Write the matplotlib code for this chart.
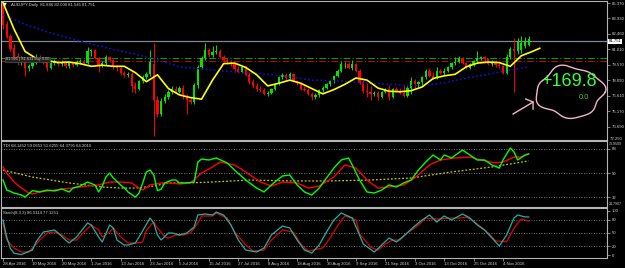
import numpy as np
import matplotlib
matplotlib.use('Agg')
import matplotlib.pyplot as plt
from matplotlib.transforms import blended_transform_factory

plt.rcParams['font.family'] = ['Liberation Sans', 'DejaVu Sans']

# --- AUDJPY daily candles, 28 Apr 2016 .. 15 Nov 2016 ---
opens = [85.30, 83.35, 82.25, 81.10, 80.35, 79.80, 80.05, 79.20, 79.45, 79.75,
         80.30, 80.10, 79.80, 79.25, 79.70, 79.90, 79.60, 79.80, 79.40, 79.70,
         79.50, 79.80, 79.90, 79.70, 80.80, 80.90, 80.20, 79.50, 79.70, 80.30,
         80.00, 79.30, 79.20, 78.80, 78.60, 78.70, 77.50, 77.30, 78.00, 78.40,
         78.70, 79.60, 76.20, 74.90, 76.10, 76.50, 77.00, 77.30, 77.00, 77.35,
         76.60, 76.20, 76.00, 77.60, 79.30, 80.20, 80.90, 80.50, 80.75, 80.85,
         80.30, 80.00, 79.80, 79.60, 79.10, 78.90, 79.30, 78.60, 77.90, 77.50,
         77.30, 77.20, 76.80, 76.90, 77.30, 77.70, 78.40, 78.60, 78.30, 78.70,
         78.00, 77.80, 77.30, 77.20, 76.80, 76.50, 76.70, 77.20, 77.40, 77.70,
         78.00, 78.50, 79.00, 79.60, 79.65, 79.20, 79.60, 79.00, 77.85, 77.05,
         76.95, 76.80, 76.90, 76.55, 77.00, 77.30, 76.50, 77.30, 77.10, 76.90,
         76.60, 77.40, 78.00, 77.70, 77.90, 78.40, 79.00, 78.50, 78.30, 79.00,
         78.80, 79.00, 79.30, 79.70, 79.85, 80.20, 79.70, 79.25, 79.60, 79.90,
         80.15, 80.25, 80.05, 79.60, 79.80, 79.50, 79.40, 78.80, 80.30, 81.00,
         80.80, 80.90, 81.30, 81.45]
highs = [85.42, 83.70, 82.45, 81.55, 80.70, 80.40, 80.20, 79.65, 79.90, 80.55,
         80.50, 80.25, 79.95, 79.85, 80.05, 80.00, 79.95, 79.90, 79.85, 79.80,
         79.95, 80.10, 80.05, 81.20, 81.05, 81.00, 80.30, 79.90, 80.50, 80.40,
         80.10, 79.50, 79.35, 79.00, 78.90, 78.85, 77.90, 78.15, 78.55, 78.90,
         80.90, 81.60, 76.60, 76.40, 76.80, 77.20, 77.50, 77.50, 77.55, 77.60,
         76.80, 76.50, 77.80, 79.50, 80.40, 81.60, 81.10, 81.30, 81.40, 81.00,
         80.50, 80.20, 80.00, 79.75, 79.40, 79.45, 79.40, 78.85, 78.25, 77.80,
         77.55, 77.35, 77.10, 77.40, 77.80, 78.50, 78.80, 78.75, 78.90, 78.80,
         78.15, 77.95, 77.50, 77.35, 76.95, 76.85, 77.30, 77.50, 77.80, 78.10,
         78.60, 79.10, 79.90, 79.85, 79.80, 80.00, 79.75, 79.15, 78.10, 77.80,
         77.50, 77.10, 77.10, 77.10, 77.40, 77.60, 77.40, 77.45, 77.35, 77.60,
         77.50, 78.40, 78.20, 78.05, 78.50, 79.10, 79.20, 78.85, 79.30, 79.10,
         79.20, 79.45, 79.80, 80.30, 80.35, 80.30, 79.85, 79.70, 80.00, 80.80,
         80.35, 80.40, 80.20, 79.95, 79.95, 79.70, 79.55, 80.60, 81.20, 82.10,
         82.10, 82.30, 82.20, 82.25]
lows = [82.95, 82.05, 80.80, 80.05, 79.55, 79.55, 78.50, 78.95, 79.20, 79.60,
        79.95, 79.60, 78.95, 79.10, 79.50, 79.40, 79.45, 79.20, 79.25, 79.30,
        79.40, 79.65, 79.50, 79.60, 80.35, 80.05, 78.90, 79.30, 79.55, 79.85,
        79.15, 79.00, 78.60, 78.40, 78.40, 76.95, 76.90, 77.15, 77.80, 78.20,
        78.50, 72.80, 74.60, 74.70, 75.90, 76.30, 76.80, 76.85, 76.90, 76.30,
        74.90, 75.80, 75.80, 77.40, 79.10, 80.00, 80.30, 80.30, 80.55, 80.15,
        79.85, 79.65, 79.45, 78.95, 78.75, 78.80, 78.45, 77.75, 77.35, 77.10,
        77.00, 76.65, 76.60, 76.80, 77.20, 77.60, 78.20, 78.15, 78.20, 77.90,
        77.65, 77.20, 77.05, 76.65, 76.20, 76.35, 76.55, 77.00, 77.25, 77.55,
        77.85, 78.35, 78.85, 79.25, 79.10, 79.05, 78.90, 77.70, 76.90, 76.50,
        76.20, 76.60, 76.20, 76.40, 76.85, 76.20, 76.40, 76.95, 76.75, 76.50,
        76.50, 76.80, 77.40, 77.45, 77.60, 78.20, 78.40, 78.20, 78.20, 78.70,
        78.60, 78.85, 79.15, 79.50, 79.70, 79.60, 79.10, 79.10, 79.40, 79.75,
        79.95, 79.85, 79.50, 79.45, 79.35, 79.20, 78.65, 78.70, 80.10, 77.00,
        80.60, 80.70, 81.10, 81.30]
closes = [83.30, 82.20, 81.00, 80.30, 79.80, 80.05, 79.20, 79.45, 79.75, 80.30,
          80.10, 79.80, 79.25, 79.70, 79.90, 79.60, 79.80, 79.40, 79.70, 79.50,
          79.80, 79.90, 79.70, 80.80, 80.90, 80.20, 79.50, 79.70, 80.30, 80.00,
          79.30, 79.20, 78.80, 78.60, 78.70, 77.50, 77.30, 78.00, 78.40, 78.70,
          79.80, 76.20, 74.90, 76.10, 76.50, 77.00, 77.30, 77.00, 77.35, 76.60,
          76.20, 76.00, 77.60, 79.30, 80.20, 80.90, 80.50, 80.75, 80.85, 80.30,
          80.00, 79.80, 79.60, 79.10, 78.90, 79.30, 78.60, 77.90, 77.50, 77.30,
          77.20, 76.80, 76.90, 77.30, 77.70, 78.40, 78.60, 78.30, 78.70, 78.00,
          77.80, 77.30, 77.20, 76.80, 76.50, 76.70, 77.20, 77.40, 77.70, 78.00,
          78.50, 79.00, 79.60, 79.65, 79.20, 79.60, 79.00, 77.85, 77.05, 76.95,
          76.80, 76.90, 76.55, 77.00, 77.30, 76.50, 77.30, 77.10, 76.90, 76.60,
          77.40, 78.00, 77.70, 77.90, 78.40, 79.00, 78.50, 78.30, 79.00, 78.80,
          79.00, 79.30, 79.70, 79.85, 80.20, 79.70, 79.25, 79.60, 79.90, 80.15,
          80.25, 80.05, 79.60, 79.80, 79.50, 79.40, 78.80, 80.30, 81.00, 80.80,
          81.70, 81.60, 81.75, 81.95]

date_labels = ['28 Apr 2016', '10 May 2016', '20 May 2016', '1 Jun 2016', '13 Jun 2016',
               '23 Jun 2016', '5 Jul 2016', '15 Jul 2016', '27 Jul 2016', '8 Aug 2016',
               '18 Aug 2016', '30 Aug 2016', '9 Sep 2016', '21 Sep 2016', '3 Oct 2016',
               '13 Oct 2016', '25 Oct 2016', '4 Nov 2016']
date_bars = list(range(0, 137, 8))

# yellow smoothed MA (drawn 3 bars past the last candle)
yellow_bars = list(range(0, 145, 3)) + [146]
yellow_ma = [85.40, 82.90, 80.80, 80.15, 79.95, 79.75, 79.80, 79.65, 79.40, 79.50,
             79.40, 79.40, 78.80, 77.95, 78.60, 77.30, 76.70, 76.45, 76.30, 78.10,
             79.65, 79.70, 79.30, 78.60, 77.55, 77.80, 78.10, 77.80, 77.30, 76.80,
             77.20, 77.70, 78.30, 78.10, 77.35, 77.05, 77.00, 77.10, 77.45, 78.25,
             78.50, 78.65, 79.35, 79.70, 79.80, 79.75, 79.40, 80.40, 80.80, 81.10]

# blue dotted slow MA
blue_bars = list(range(0, 144, 6)) + [143]
blue_ma = [84.25, 83.35, 82.65, 82.05, 81.50, 81.00, 80.55, 80.00, 79.35, 79.15,
           78.95, 78.80, 78.65, 78.40, 78.10, 78.05, 77.90, 77.75, 77.65, 77.55,
           77.85, 78.30, 78.65, 79.05, 79.35]

# TDI: RSI price line (green), trade signal (red), market base (yellow)
tdi_green_bars = [0, 1, 3, 5, 6, 8, 10, 12, 14, 16, 18, 19, 21, 23, 25, 26, 27, 28, 29, 30,
                  32, 33, 34, 36, 37, 38, 39, 40, 41, 42, 43, 44, 46, 47, 48, 50, 52, 53, 54, 56,
                  58, 61, 63, 66, 69, 71, 73, 76, 78, 80, 82, 84, 86, 88, 90, 92, 94, 95, 97, 99,
                  101, 103, 105, 107, 109, 111, 113, 115, 117, 119, 120, 122, 125, 127, 129, 131,
                  133, 135, 136, 138, 139, 140, 142, 143]
tdi_green = [44.9, 37.5, 35.2, 33.7, 32.2, 37.0, 36.0, 37.4, 36.7, 38.2, 36.0, 38.9, 40.4, 43.4,
             41.2, 36.0, 40.4, 47.1, 50.1, 46.4, 41.2, 38.9, 36.0, 32.2, 35.2, 42.7, 50.9, 52.3,
             48.6, 37.0, 38.0, 42.7, 44.9, 44.9, 42.7, 42.7, 43.4, 58.3, 60.5, 59.8, 61.3, 57.6,
             52.3, 44.9, 38.9, 36.0, 41.2, 47.9, 48.6, 41.2, 36.0, 33.7, 38.9, 46.4, 53.8, 59.8,
             61.3, 56.1, 44.9, 36.0, 35.2, 37.4, 41.2, 39.7, 42.7, 44.9, 52.3, 58.3, 63.5, 59.8,
             63.5, 61.3, 67.2, 63.5, 59.8, 59.8, 56.1, 53.8, 59.8, 68.7, 65.8, 59.8, 63.5, 64.4]
tdi_red_bars = [0, 1, 3, 5, 7, 8, 10, 12, 16, 19, 23, 26, 29, 32, 35, 37, 38, 40, 43, 46,
                48, 51, 54, 57, 59, 63, 66, 70, 73, 76, 80, 83, 86, 90, 93, 96, 99, 102, 105, 109,
                112, 116, 119, 123, 127, 130, 134, 136, 139, 141, 143]
tdi_red = [54.6, 50.1, 43.4, 38.9, 35.2, 34.5, 36.0, 36.7, 38.2, 38.9, 40.4, 41.2, 43.4, 43.4,
           42.7, 38.9, 37.4, 41.2, 42.7, 42.7, 41.9, 42.7, 50.1, 54.6, 58.3, 56.1, 50.9, 43.4,
           40.4, 43.4, 42.7, 38.9, 40.4, 47.1, 56.1, 53.8, 44.9, 38.9, 39.7, 41.2, 46.4, 56.1,
           59.8, 61.3, 62.0, 59.8, 57.6, 58.3, 62.0, 62.0, 64.2]
tdi_base_bars = [0, 8, 18, 27, 32, 36, 41, 45, 50, 57, 67, 78, 89, 100, 111, 122, 133, 143]
tdi_base = [52.3, 47.1, 42.7, 39.7, 38.9, 38.9, 40.4, 42.7, 42.7, 43.4, 44.9, 44.2, 44.2, 44.9,
            46.4, 50.9, 54.6, 59.1]

# Stochastic(8,3,3): main (teal) and signal (red)
stoch_main_bars = [0, 1, 2, 3, 5, 7, 8, 9, 11, 14, 15, 17, 18, 20, 23, 24, 26, 27, 29, 30,
                   31, 33, 34, 36, 37, 40, 41, 42, 43, 45, 46, 48, 50, 52, 53, 55, 57, 58, 60, 62,
                   64, 66, 69, 71, 73, 76, 78, 80, 82, 84, 86, 88, 90, 92, 95, 97, 98, 101, 103, 105,
                   107, 109, 112, 114, 116, 118, 120, 122, 125, 127, 129, 131, 133, 135, 137, 139,
                   140, 142, 143]
stoch_main = [79.5, 40.9, 15.0, 4.0, 1.0, 8.0, 11.4, 30.0, 52.3, 56.8, 50.0, 34.0, 27.3, 40.9,
              72.7, 68.2, 40.9, 29.5, 68.2, 61.4, 34.0, 22.7, 22.7, 27.3, 40.9, 84.1, 72.7, 45.5,
              34.0, 50.0, 50.0, 45.5, 50.0, 63.6, 90.9, 93.2, 90.9, 97.7, 90.9, 68.2, 34.0, 11.4,
              6.8, 15.9, 45.5, 65.9, 61.4, 34.0, 11.4, 4.5, 22.7, 52.3, 79.5, 95.5, 84.1, 45.0,
              25.0, 6.8, 22.7, 38.6, 29.5, 43.2, 65.9, 79.5, 90.9, 75.0, 88.6, 79.5, 93.2, 84.1,
              68.2, 56.8, 38.6, 20.5, 45.5, 84.1, 90.9, 86.4, 86.5]
stoch_sig_bars = [0, 1, 3, 5, 7, 8, 10, 12, 14, 16, 18, 20, 22, 24, 26, 27, 29, 30, 32, 34,
                  36, 38, 39, 41, 42, 44, 45, 47, 49, 51, 53, 54, 57, 58, 61, 63, 66, 68, 71, 73,
                  76, 79, 81, 83, 87, 89, 91, 93, 96, 97, 100, 102, 104, 106, 108, 110, 113, 115,
                  117, 119, 121, 124, 126, 128, 130, 132, 134, 137, 139, 141, 143]
stoch_sig = [72.7, 34.0, 15.9, 6.8, 6.8, 15.9, 34.0, 50.0, 52.3, 45.5, 34.0, 34.0, 52.3, 68.2,
             56.8, 40.9, 52.3, 61.4, 40.9, 27.3, 27.3, 29.5, 56.8, 75.0, 61.4, 40.9, 38.6, 45.5,
             45.5, 50.0, 72.7, 88.6, 88.6, 95.0, 84.0, 52.0, 23.0, 9.0, 11.0, 34.0, 57.0, 52.0,
             25.0, 9.0, 16.0, 39.0, 66.0, 89.0, 80.0, 48.0, 18.0, 11.0, 25.0, 34.0, 34.0, 50.0,
             68.0, 84.0, 82.0, 82.0, 84.0, 84.0, 86.0, 77.0, 64.0, 50.0, 32.0, 30.0, 61.0, 82.0,
             77.1]

price_ticks = [85.370, 83.930, 82.460, 81.010, 79.570, 78.090, 76.610, 75.170, 73.690]
last_price = 81.751
order_green = 80.19
order_red = 79.90

BG = 'black'
AXC = '#b4b4b4'
TXT = '#d2d2d2'
BULL = '#00e400'
BEAR = '#ff0000'
FS = 3.1  # the small MT4 label font

W, H = 625, 268


def painel(fig, top, bottom):
    """Creates one chart pane from pixel rows (top, bottom)."""
    ax = fig.add_axes([1 / W, 1 - bottom / H, 606 / W, (bottom - top) / H])
    ax.set_facecolor(BG)
    for s in ax.spines.values():
        s.set_color(AXC)
        s.set_linewidth(0.8)
    ax.yaxis.tick_right()
    ax.tick_params(axis='y', colors=AXC, labelcolor=TXT, labelsize=FS, length=2, pad=1.2, width=0.5)
    ax.tick_params(axis='x', bottom=False, labelbottom=False)
    ax.set_xlim(-0.55, 164.3)
    return ax


def desenhar_velas(ax):
    """Draws the candlesticks."""
    x = np.arange(len(closes))
    o = np.array(opens)
    c = np.array(closes)
    cores = [BULL if cc >= oo else BEAR for oo, cc in zip(o, c)]
    ax.vlines(x, lows, highs, colors=cores, linewidth=0.7, zorder=3)
    corpo = np.maximum(np.abs(c - o), 0.04)
    ax.bar(x, corpo, bottom=np.minimum(o, c), width=0.62, color=cores, linewidth=0, zorder=4)


fig = plt.figure(figsize=(W / 100, H / 100), dpi=100, facecolor=BG)

# ---- main price pane ----
ax = painel(fig, 1, 140)
ax.set_ylim(72.45, 85.56)
ax.set_yticks(price_ticks)
ax.set_yticklabels(['%.3f' % v for v in price_ticks])
ax.axhline(last_price, color='#7c8794', lw=0.9, zorder=2)
ax.axhline(order_green, color='#00a000', lw=0.8, ls=(0, (6, 2, 1, 2)), zorder=2)
ax.axhline(order_red, color='#c80000', lw=0.8, ls=(0, (6, 2, 1, 2)), zorder=2)
ax.plot(blue_bars, blue_ma, color='#1010d0', lw=1.1, ls=(0, (1.2, 1.5)), zorder=5)
desenhar_velas(ax)
ax.plot(yellow_bars, yellow_ma, color='#ffff00', lw=1.2, zorder=6)

trans = blended_transform_factory(ax.transAxes, ax.transData)
ax.text(1.003, last_price, '%.3f' % last_price, transform=trans, fontsize=FS, color='black',
        va='center', ha='left', bbox=dict(boxstyle='square,pad=0.12', fc='white', ec='none'),
        clip_on=False, zorder=10)
ax.text(1.005, 0.01, '72.250', transform=ax.transAxes, fontsize=FS, color=TXT,
        va='center', ha='left', clip_on=False)
ax.text(0.008, 0.58, '81.991 | 81.611 buy 0.00', transform=ax.transAxes, fontsize=FS - 0.3,
        color='#c8c8c8', va='center', ha='left',
        bbox=dict(boxstyle='square,pad=0.2', fc='#202020', ec='#606060', lw=0.4), zorder=9)

# hand drawn note on the right
t = np.linspace(0, 2 * np.pi, 200)
r = 1 + 0.07 * np.sin(4 * t + 0.5) + 0.04 * np.sin(7 * t + 1.0)
ax.plot(0.939 + 0.0545 * r * np.cos(t), 0.345 + 0.18 * r * np.sin(t), transform=ax.transAxes,
        color='#f4b4cc', lw=1.0, zorder=8)
ax.plot([0.845, 0.878], [0.187, 0.273], transform=ax.transAxes, color='#f4b4cc', lw=1.0)
ax.plot([0.866, 0.878, 0.878], [0.295, 0.273, 0.223], transform=ax.transAxes,
        color='#f4b4cc', lw=1.0)
ax.text(0.937, 0.424, '+169.8', transform=ax.transAxes, fontsize=13, color='#39ff39',
        ha='center', va='center', zorder=9)
ax.text(0.962, 0.305, '0.0', transform=ax.transAxes, fontsize=5.5, color='#39c839',
        ha='center', va='center', zorder=9)

# ---- TDI pane ----
ax2 = painel(fig, 141, 207)
ax2.set_ylim(24.7907, 73.9509)
for nivel in (68, 50, 32):
    ax2.axhline(nivel, color='#9a9a9a', lw=0.6, ls=(0, (1, 2)))
ax2.set_yticks([32, 50, 68])
ax2.set_yticklabels(['32', '50', '68'])
# pane range labels, squeezed into the narrow price scale
ax2.text(1.003, 0.985, '73.9509', transform=ax2.transAxes, fontsize=2.6, color=TXT,
         va='top', ha='left', clip_on=False)
ax2.text(1.003, 0.015, '24.7907', transform=ax2.transAxes, fontsize=2.6, color=TXT,
         va='bottom', ha='left', clip_on=False)
ax2.plot(tdi_base_bars, tdi_base, color='#c8c800', lw=0.9, ls=(0, (1.5, 1.5)))
ax2.plot(tdi_red_bars, tdi_red, color='#ff0000', lw=1.0)
ax2.plot(tdi_green_bars, tdi_green, color='#00ff00', lw=1.0)

# ---- Stochastic pane ----
ax3 = painel(fig, 208, 258)
ax3.set_ylim(-6.8, 106.8)
for nivel in (80, 50, 20):
    ax3.axhline(nivel, color='#9a9a9a', lw=0.6, ls=(0, (1, 2)))
ax3.set_yticks([0, 20, 50, 80, 100])
ax3.plot(stoch_sig_bars, stoch_sig, color='#e00000', lw=0.9)
ax3.plot(stoch_main_bars, stoch_main, color='#20b2aa', lw=0.9)
ax3.tick_params(axis='x', bottom=True, labelbottom=True, colors=AXC, labelcolor=TXT,
                labelsize=FS, length=2, pad=1, width=0.5)
ax3.set_xticks(date_bars)
ax3.set_xticklabels(date_labels, ha='left')

# ---- pane captions ----
fig.text(5 / W, 1 - 4 / H, '\u25bc', fontsize=3.5, color='white', family='DejaVu Sans',
         ha='center', va='center')
fig.text(11 / W, 1 - 5 / H, 'AUDJPY,Daily  81.886 82.000 81.545 81.751', fontsize=FS,
         color=TXT, va='center', ha='left')
fig.text(3 / W, 1 - 146 / H, 'TDI 68.1452 59.0653 51.6255 64.3795 64.2010', fontsize=FS,
         color=TXT, va='center', ha='left')
fig.text(3 / W, 1 - 213 / H, 'Stoch(8,3,3) 86.5114 77.1251', fontsize=FS,
         color=TXT, va='center', ha='left')

fig.savefig('out.png', dpi=100, facecolor=BG)
